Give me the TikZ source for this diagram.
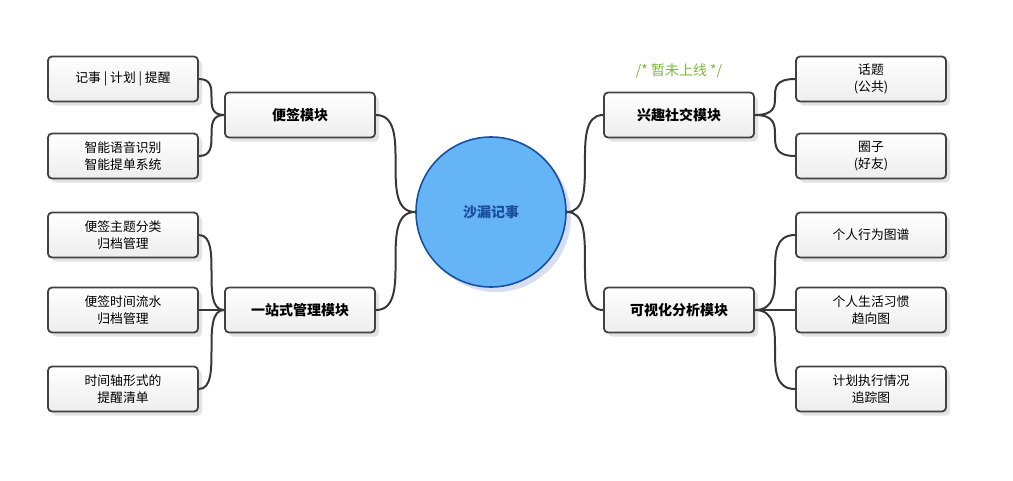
\documentclass[tikz,border=0pt]{standalone}
\usepackage{fontspec}
\setmainfont{Noto Sans CJK SC}
\usetikzlibrary{positioning, shadows, calc}
\definecolor{hlLine}{HTML}{383838}
\definecolor{hlBorder}{HTML}{424242}
\definecolor{hlShadow}{HTML}{E3E3E3}
\definecolor{hlCore}{HTML}{64B4F6}
\definecolor{hlCoreLine}{HTML}{1A4FA3}
\definecolor{hlCoreText}{HTML}{1B4D9B}
\definecolor{hlCoreShadow}{HTML}{D6DEF0}
\definecolor{hlNote}{HTML}{7BB841}

\begin{document}
\begin{tikzpicture}[x=1pt, y=-1pt,
  leaf/.style={draw=hlBorder, line width=1.8pt, rounded corners=4pt,
               top color=white, bottom color=black!7, align=center,
               minimum width=150pt, minimum height=45pt, inner sep=2pt,
               font=\fontsize{12.8}{17}\selectfont,
               drop shadow={shadow xshift=4pt, shadow yshift=-4pt, fill=hlShadow, opacity=1}},
  module/.style={leaf, font=\fontsize{14}{17}\selectfont\bfseries},
  core/.style={circle, draw=hlCoreLine, line width=1.6pt, fill=hlCore,
               minimum size=150pt, inner sep=0pt, text=hlCoreText,
               font=\fontsize{14}{17}\selectfont\bfseries,
               drop shadow={shadow xshift=5pt, shadow yshift=-5pt, fill=hlCoreShadow, opacity=1}},
  link/.style={draw=hlLine, line width=2pt}
]
\useasboundingbox (0,0) rectangle (1013,480);

% ===== CENTRE =====
\node[core] (core) at (491,212) {沙漏记事};

% ===== LEFT: modules and leaves =====
\node[module] (memo) at (300,115) {便签模块};
\node[module] (mgmt) at (300,310) {一站式管理模块};

\node[leaf] (notes)  at (123,79)  {记事 | 计划 | 提醒};
\node[leaf] (voice)  at (123,156) {智能语音识别\\智能提单系统};
\node[leaf] (topic)  at (123,235) {便签主题分类\\归档管理};
\node[leaf] (flow)   at (123,310) {便签时间流水\\归档管理};
\node[leaf] (remind) at (123,389) {时间轴形式的\\提醒清单};

\draw[link] (core.west) .. controls (memo.east |- core.west) and (core.west |- memo.east) .. (memo.east);
\draw[link] (core.west) .. controls (mgmt.east |- core.west) and (core.west |- mgmt.east) .. (mgmt.east);

\draw[link] (memo.west) .. controls (notes.east |- memo.west) and (memo.west |- notes.east) .. (notes.east);
\draw[link] (memo.west) .. controls (voice.east |- memo.west) and (memo.west |- voice.east) .. (voice.east);

\draw[link] (mgmt.west) .. controls (topic.east |- mgmt.west) and (mgmt.west |- topic.east) .. (topic.east);
\draw[link] (mgmt.west) -- (flow.east);
\draw[link] (mgmt.west) .. controls (remind.east |- mgmt.west) and (mgmt.west |- remind.east) .. (remind.east);

% ===== RIGHT: modules and leaves =====
\node[module] (social) at (679,115) {兴趣社交模块};
\node[module] (visual) at (679,310) {可视化分析模块};

\node[font=\fontsize{14}{16}\selectfont, text=hlNote] (note) at (679,71) {/* 暂未上线 */};

\node[leaf] (subject) at (871,79)  {话题\\(公共)};
\node[leaf] (circle)  at (871,156) {圈子\\(好友)};
\node[leaf] (graph)   at (871,235) {个人行为图谱};
\node[leaf] (habit)   at (871,310) {个人生活习惯\\趋向图};
\node[leaf] (track)   at (871,389) {计划执行情况\\追踪图};

\draw[link] (core.east) .. controls (social.west |- core.east) and (core.east |- social.west) .. (social.west);
\draw[link] (core.east) .. controls (visual.west |- core.east) and (core.east |- visual.west) .. (visual.west);

\draw[link] (social.east) .. controls (subject.west |- social.east) and (social.east |- subject.west) .. (subject.west);
\draw[link] (social.east) .. controls (circle.west |- social.east) and (social.east |- circle.west) .. (circle.west);

\draw[link] (visual.east) .. controls (graph.west |- visual.east) and (visual.east |- graph.west) .. (graph.west);
\draw[link] (visual.east) -- (habit.west);
\draw[link] (visual.east) .. controls (track.west |- visual.east) and (visual.east |- track.west) .. (track.west);

\end{tikzpicture}
\end{document}
